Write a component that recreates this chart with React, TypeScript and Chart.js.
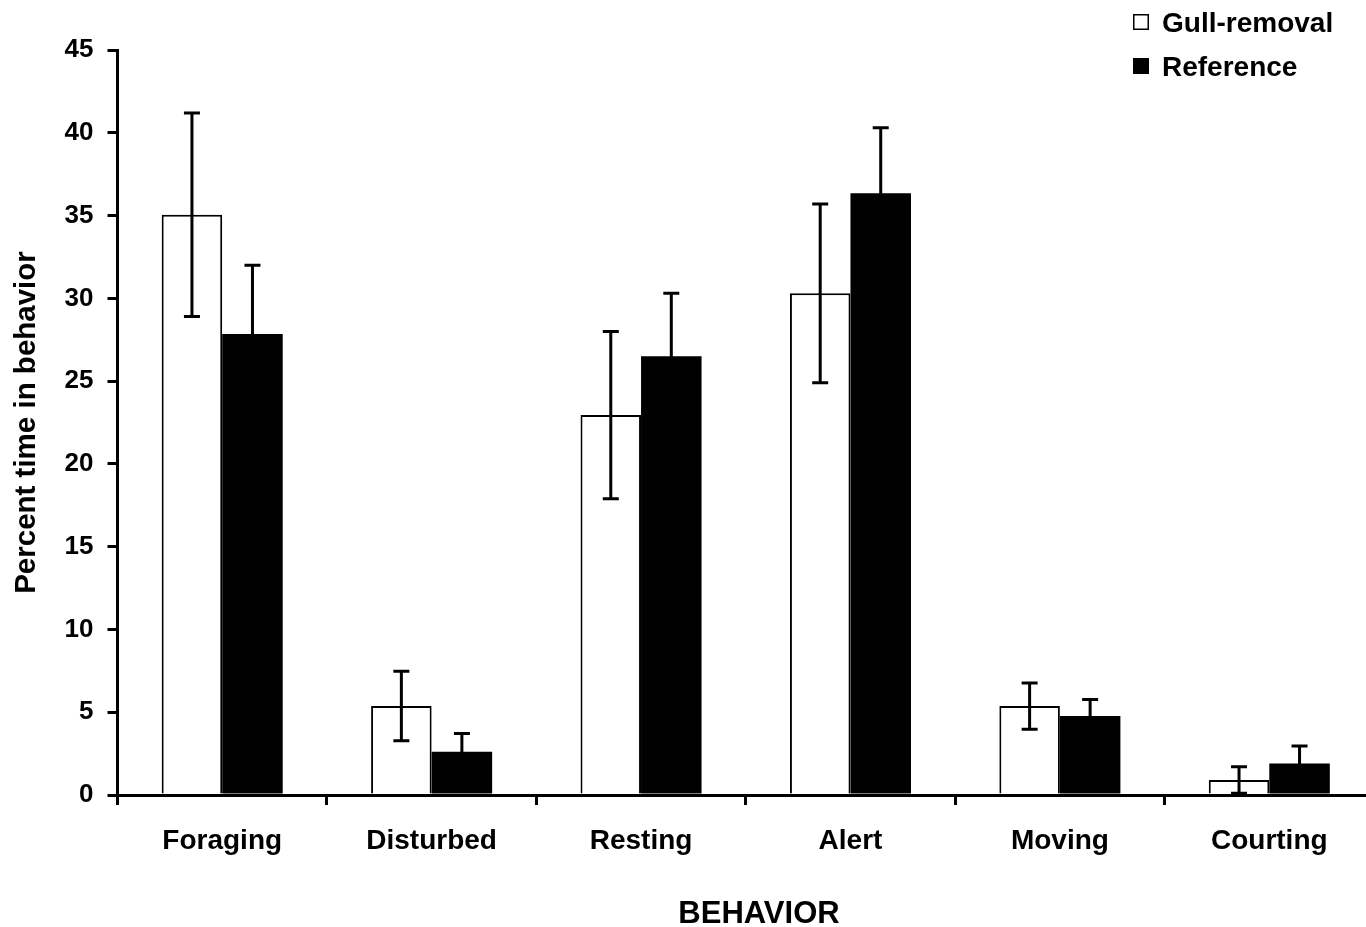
import React, { useEffect, useRef } from "react";
import { Chart, registerables } from "chart.js";

Chart.register(...registerables);

const categories = ["Foraging", "Disturbed", "Resting", "Alert", "Moving", "Courting"];
const gullRemoval = [35.05, 5.37, 22.95, 30.3, 5.37, 0.91];
const gullRemovalErr = [6.15, 2.1, 5.05, 5.4, 1.4, 0.8];
const reference = [27.85, 2.61, 26.5, 36.35, 4.77, 1.91];
const referenceErr = [4.15, 1.1, 3.8, 3.95, 1.0, 1.05];
const seriesLabels = ["Gull-removal", "Reference"];
const yMin = 0;
const yMax = 45;
const yStep = 5;
const xTitle = "BEHAVIOR";
const yTitle = "Percent time in behavior";

const FONT = "'Liberation Sans', Arial, sans-serif";

const errorBars = {
  id: "errorBars",
  afterDatasetsDraw(chart: any) {
    const ctx = chart.ctx;
    const yScale = chart.scales.y;
    ctx.save();
    ctx.strokeStyle = "#000";
    ctx.lineWidth = 3;
    chart.data.datasets.forEach((ds: any, di: number) => {
      const meta = chart.getDatasetMeta(di);
      meta.data.forEach((bar: any, i: number) => {
        const v = ds.data[i];
        const e = ds.errors[i];
        const x = bar.x;
        const yHi = yScale.getPixelForValue(v + e);
        const yLo = yScale.getPixelForValue(Math.max(0, v - e));
        ctx.beginPath();
        ctx.moveTo(x, yHi);
        ctx.lineTo(x, yLo);
        ctx.moveTo(x - 8, yHi);
        ctx.lineTo(x + 8, yHi);
        ctx.moveTo(x - 8, yLo);
        ctx.lineTo(x + 8, yLo);
        ctx.stroke();
      });
    });
    ctx.restore();
  },
};

const customLegendAndTitle = {
  id: "customLegendAndTitle",
  afterDraw(chart: any) {
    const ctx = chart.ctx;
    ctx.save();
    const fills = ["#fff", "#000"];
    const baselines = [31.5, 75.5];
    chart.data.datasets.forEach((ds: any, i: number) => {
      const top = baselines[i] - 17.5;
      ctx.fillStyle = fills[i];
      ctx.fillRect(1133, top, 16, 16);
      ctx.strokeStyle = "#000";
      ctx.lineWidth = 1.5;
      ctx.strokeRect(1133.75, top + 0.75, 14.5, 14.5);
      ctx.fillStyle = "#000";
      ctx.font = "bold 28px " + FONT;
      ctx.textAlign = "left";
      ctx.textBaseline = "alphabetic";
      ctx.fillText(ds.label, 1162, baselines[i]);
    });
    ctx.font = "bold 31px " + FONT;
    ctx.textAlign = "center";
    ctx.textBaseline = "alphabetic";
    ctx.fillStyle = "#000";
    ctx.fillText(xTitle, 759, 922.5);
    ctx.restore();
  },
};

export default function App() {
  const canvasRef = useRef<HTMLCanvasElement | null>(null);

  useEffect(() => {
    const canvas = canvasRef.current;
    if (!canvas) return;
    const chart = new Chart(canvas, {
      type: "bar",
      data: {
        labels: categories,
        datasets: [
          {
            label: seriesLabels[0],
            data: gullRemoval,
            errors: gullRemovalErr,
            backgroundColor: "#fff",
            borderColor: "#000",
            borderWidth: 2,
          } as any,
          {
            label: seriesLabels[1],
            data: reference,
            errors: referenceErr,
            backgroundColor: "#000",
            borderColor: "#000",
            borderWidth: 0,
          } as any,
        ],
      },
      options: {
        responsive: false,
        animation: false,
        devicePixelRatio: 1,
        layout: { padding: { top: 50, right: 16, bottom: 0, left: 0 } },
        datasets: {
          bar: { categoryPercentage: 0.578, barPercentage: 1 },
        } as any,
        plugins: {
          legend: { display: false },
          tooltip: { enabled: false },
        },
        scales: {
          x: {
            afterFit: (s: any) => {
              s.height = 132;
            },
            grid: {
              display: true,
              drawOnChartArea: false,
              drawTicks: true,
              tickLength: 10,
              color: "#000",
              lineWidth: 3,
              offset: true,
            },
            border: { display: true, color: "#000", width: 3 },
            ticks: {
              color: "#000",
              padding: 19,
              font: { family: FONT, weight: "bold", size: 28 },
              maxRotation: 0,
            },
          },
          y: {
            min: yMin,
            max: yMax,
            afterFit: (s: any) => {
              s.width = 117.5;
            },
            grid: {
              display: true,
              drawOnChartArea: false,
              drawTicks: true,
              tickLength: 10,
              color: "#000",
              lineWidth: 3,
            },
            border: { display: true, color: "#000", width: 3 },
            ticks: {
              stepSize: yStep,
              color: "#000",
              padding: 14,
              font: { family: FONT, weight: "bold", size: 26 },
            },
            title: {
              display: true,
              text: yTitle,
              color: "#000",
              font: { family: FONT, weight: "bold", size: 29.5 },
              padding: { top: 9, bottom: 0 },
            },
          },
        },
      },
      plugins: [errorBars, customLegendAndTitle],
    } as any);
    return () => chart.destroy();
  }, []);

  return (
    <div
      style={{
        position: "fixed",
        left: 0,
        top: 0,
        width: 1366,
        height: 927,
        overflow: "hidden",
        background: "#fff",
      }}
    >
      <canvas
        ref={canvasRef}
        width={1390}
        height={927}
        style={{ display: "block", width: 1390, height: 927 }}
      />
    </div>
  );
}
